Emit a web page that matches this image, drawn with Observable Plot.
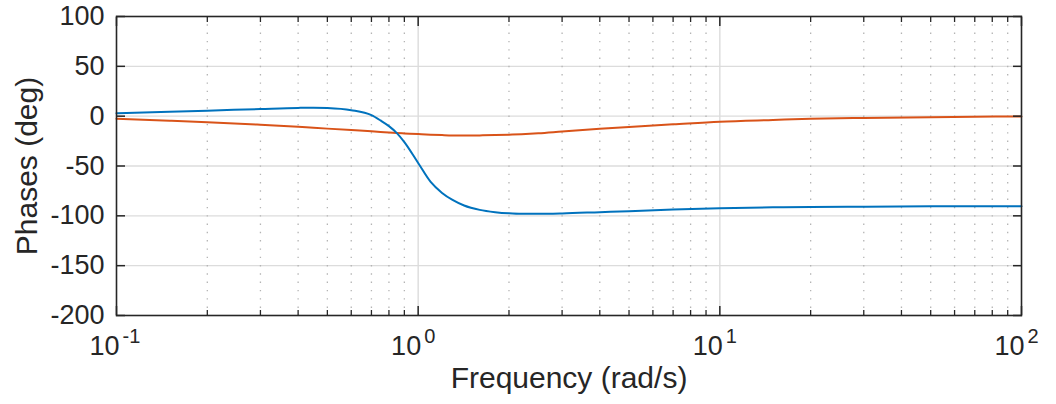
<!DOCTYPE html>
<html><head><meta charset="utf-8">
<script src="https://cdn.jsdelivr.net/npm/d3@7"></script>
<script src="https://cdn.jsdelivr.net/npm/@observablehq/plot@0.6"></script>
<style>html,body{margin:0;padding:0;background:#fff;overflow:hidden;} #chart{width:1056px;height:404px;}</style>
</head><body><div id="chart"></div>
<script>
// Frequency samples (rad/s)
const freq = [0.1, 0.15, 0.2, 0.3, 0.4, 0.45, 0.5, 0.6, 0.7, 0.75, 0.8, 0.85, 0.9, 1.0, 1.1, 1.2, 1.3, 1.42, 1.6, 1.8, 2.0, 2.2, 2.5, 3, 4, 5, 7, 10, 15, 20, 30, 50, 70, 100];
// Phase of first response (deg)
const phaseBlue = [3.0, 4.4, 5.5, 7.2, 8.3, 8.5, 8.2, 6.0, 1.0, -4.3, -10, -17, -26, -47, -66, -77, -84, -89.6, -94, -96.3, -97.5, -98, -98, -97.6, -96.3, -95.3, -93.6, -92.4, -91.5, -91.1, -90.8, -90.5, -90.4, -90.3];
// Phase of second response (deg)
const phaseOrange = [-2.6, -4.5, -6.0, -8.6, -10.6, -11.6, -12.5, -14.0, -15.2, -15.8, -16.4, -16.9, -17.3, -18.0, -18.6, -19.0, -19.3, -19.4, -19.3, -19.0, -18.6, -18.1, -17.2, -15.4, -12.7, -10.8, -8.2, -5.5, -3.8, -2.7, -1.8, -1.0, -0.6, -0.3];

const xMajorTicks = [0.1, 1, 10, 100];
const xTickExponents = ["-1", "0", "1", "2"];
const xMinorTicks = [0.2,0.3,0.4,0.5,0.6,0.7,0.8,0.9, 2,3,4,5,6,7,8,9, 20,30,40,50,60,70,80,90];
const yTicks = [-200, -150, -100, -50, 0, 50, 100];
const xLabel = "Frequency (rad/s)";
const yLabel = "Phases (deg)";

const blueData = freq.map((f, i) => ({f, p: phaseBlue[i]}));
const orangeData = freq.map((f, i) => ({f, p: phaseOrange[i]}));

const axisColor = "#262626";
const noText = () => "";

const chart = Plot.plot({
  width: 1056,
  height: 404,
  marginLeft: 116,
  marginRight: 35,
  marginTop: 16,
  marginBottom: 89,
  style: {fontFamily: "'Liberation Sans', Arial, Helvetica, sans-serif", fontSize: "26px", color: axisColor, background: "#fff"},
  x: {type: "log", domain: [0.1, 100], axis: null},
  y: {domain: [-200, 100], axis: null},
  marks: [
    Plot.gridY(yTicks.filter(t => t > -200 && t < 100), {stroke: "#dcdcdc", strokeOpacity: 1, strokeWidth: 1.4}),
    Plot.gridX(xMinorTicks, {stroke: "#b4b4b4", strokeOpacity: 1, strokeWidth: 1.3, strokeDasharray: "1.4,6.9"}),
    Plot.gridX([1, 10], {stroke: "#dcdcdc", strokeOpacity: 1, strokeWidth: 1.4}),
    Plot.line(orangeData, {x: "f", y: "p", stroke: "#D95319", strokeWidth: 2, curve: "monotone-x"}),
    Plot.line(blueData, {x: "f", y: "p", stroke: "#0072BD", strokeWidth: 2, curve: "monotone-x"}),
    Plot.frame({stroke: axisColor, strokeWidth: 1.6}),
    Plot.axisX(xMajorTicks, {anchor: "bottom", tickSize: -9, tickFormat: noText, label: null, stroke: axisColor, strokeWidth: 1.5}),
    Plot.axisX(xMajorTicks, {anchor: "top", tickSize: -9, tickFormat: noText, label: null, stroke: axisColor, strokeWidth: 1.5}),
    Plot.axisX(xMinorTicks, {anchor: "bottom", tickSize: -5, tickFormat: noText, label: null, stroke: axisColor, strokeWidth: 1.3}),
    Plot.axisX(xMinorTicks, {anchor: "top", tickSize: -5, tickFormat: noText, label: null, stroke: axisColor, strokeWidth: 1.3}),
    Plot.axisY(yTicks, {anchor: "left", tickSize: -9, tickFormat: noText, label: null, stroke: axisColor, strokeWidth: 1.5}),
    Plot.axisY(yTicks, {anchor: "right", tickSize: -9, tickFormat: noText, label: null, stroke: axisColor, strokeWidth: 1.5}),
    Plot.axisY(yTicks, {anchor: "left", tickSize: 0, tickPadding: 12, tickFormat: d => String(d), label: null, fontSize: 27, fill: axisColor}),
    Plot.text(xMajorTicks, {x: d => d, frameAnchor: "bottom", text: () => "10", textAnchor: "end", dx: 3, dy: 39, lineAnchor: "bottom", fontSize: 27, fill: axisColor}),
    Plot.text(xMajorTicks, {x: d => d, frameAnchor: "bottom", text: (d, i) => xTickExponents[i], textAnchor: "start", dx: 6, dy: 27, lineAnchor: "bottom", fontSize: 20, fill: axisColor}),
    Plot.text([xLabel], {frameAnchor: "bottom", text: d => d, textAnchor: "middle", dy: 72, lineAnchor: "bottom", fontSize: 30, fill: axisColor}),
    Plot.text([yLabel], {frameAnchor: "left", text: d => d, textAnchor: "middle", dx: -80, rotate: -90, lineAnchor: "bottom", fontSize: 30, fill: axisColor})
  ]
});
document.getElementById("chart").appendChild(chart);
</script>
</body></html>
